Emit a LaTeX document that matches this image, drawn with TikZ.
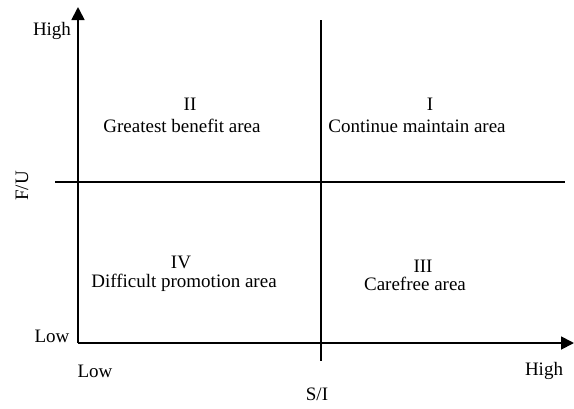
\documentclass[tikz,border=0pt]{standalone}
\usepackage{fontspec}
\setmainfont{Liberation Serif}
\usetikzlibrary{arrows.meta}
\begin{document}
\begin{tikzpicture}[x=1pt,y=-1pt,
  axis/.style={line width=1.8pt,-{Triangle[length=13pt,width=13pt]}},
  divider/.style={line width=1.8pt},
  lbl/.style={font=\fontsize{19}{21}\selectfont,inner sep=0pt,anchor=base},
  qlbl/.style={font=\fontsize{19}{21}\selectfont,inner sep=0pt,anchor=base}]
\useasboundingbox (0,0) rectangle (574,408);
\coordinate (o) at (78,343);
\coordinate (ytop) at (78,7);
\coordinate (xend) at (574,343);
\coordinate (vtop) at (321,20);
\coordinate (vbot) at (321,361);
\coordinate (hl) at (55,182);
\coordinate (hr) at (565,182);
\draw[axis] (o) -- (ytop);
\draw[axis] (o) -- (xend);
\draw[divider] (vtop) -- (vbot);
\draw[divider] (hl) -- (hr);
\node[lbl] (yhigh) at (52,35) {High};
\node[font=\fontsize{19}{21}\selectfont,inner sep=0pt,rotate=90] (fu) at (22,186) {F/U};
\node[lbl] (ylow) at (52,342) {Low};
\node[lbl] (xlow) at (95,377) {Low};
\node[lbl] (xhigh) at (544,375) {High};
\node[lbl] (si) at (317,400) {S/I};
\node[qlbl] (q2n) at (190,110) {II};
\node[qlbl] (q2) at (182,132) {Greatest benefit area};
\node[qlbl] (q1n) at (430,110) {I};
\node[qlbl] (q1) at (417,132) {Continue maintain area};
\node[qlbl] (q4n) at (181,268) {IV};
\node[qlbl] (q4) at (184,287) {Difficult promotion area};
\node[qlbl] (q3n) at (423,272) {III};
\node[qlbl] (q3) at (415,290) {Carefree area};
\end{tikzpicture}
\end{document}
